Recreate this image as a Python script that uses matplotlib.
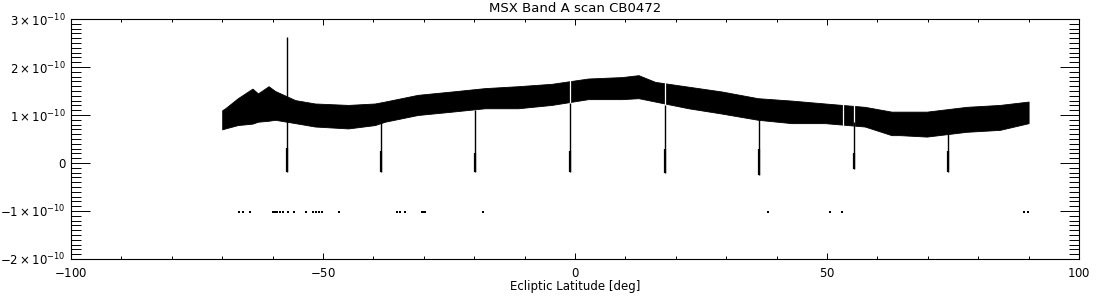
import numpy as np
import matplotlib
matplotlib.use('Agg')
import matplotlib.pyplot as plt
from matplotlib.ticker import MultipleLocator, FuncFormatter

# band envelope (flux in units of 1e-10) vs ecliptic latitude
lat = [-70, -69.4, -66.9, -64.0, -62.9, -60.8, -59.5, -55.5, -51.6, -45.0, -39.7, -37.7,
       -31.2, -24.4, -17.9, -11.3, -4.6, 2.6, 9.3, 12.6, 15.9, 22.5,
       29.1, 36.3, 43.0, 49.6, 57.5, 62.8, 64.5, 69.8, 77.7, 84.3, 90]
upper = [1.10, 1.14, 1.35, 1.55, 1.45, 1.60, 1.50, 1.31, 1.24, 1.21, 1.24, 1.28,
         1.42, 1.49, 1.56, 1.60, 1.65, 1.76, 1.79, 1.83, 1.69, 1.59,
         1.49, 1.35, 1.30, 1.24, 1.17, 1.07, 1.07, 1.07, 1.17, 1.21, 1.28]
lower = [0.70, 0.72, 0.79, 0.82, 0.86, 0.88, 0.90, 0.83, 0.76, 0.72, 0.79, 0.86,
         1.00, 1.07, 1.14, 1.14, 1.21, 1.33, 1.33, 1.35, 1.28, 1.14,
         1.03, 0.90, 0.83, 0.83, 0.76, 0.58, 0.58, 0.55, 0.65, 0.69, 0.83]

# source crossings (downward spikes)
spike_lat = [-57.1, -38.55, -19.8, -1.0, 17.9, 36.6, 55.4, 74.1]
spike_low = [-0.18, -0.18, -0.18, -0.18, -0.20, -0.25, -0.13, -0.18]
spike_top = [2.63, 1.00, 1.10, 1.25, 1.20, 0.95, 0.85, 0.75]
spike_core = [0.31, 0.25, 0.20, 0.25, 0.30, 0.30, 0.20, 0.25]

# white drop-out columns inside the band
gap_lat = [-1.0, 17.9, 53.2, 55.4]

# stray samples near -1e-10
dot_lat = [-66.6, -65.9, -64.4, -60.0, -59.6, -59.2, -58.5, -58.0, -56.9,
           -55.8, -53.4, -52.0, -51.4, -50.7, -50.1, -46.8, -35.4, -34.7,
           -33.7, -30.4, -30.1, -29.8, -18.3, 38.2, 50.5, 53.0, 89.0, 89.8]
dot_val = [-1.03] * len(dot_lat)

scale = 1e-10

plt.rcParams['font.family'] = 'DejaVu Sans'
plt.rcParams['mathtext.fontset'] = 'dejavusans'

fig = plt.figure(figsize=(11, 3), dpi=100)
ax = fig.add_axes([71 / 1100, 1 - 259 / 300, 1008 / 1100, 240 / 300])

lat_a = np.array(lat)
up_a = np.array(upper) * scale
lo_a = np.array(lower) * scale
ax.fill_between(lat_a, lo_a, up_a, color='black', linewidth=0.6, edgecolor='black')

# gaps
g_lo = np.interp(gap_lat, lat_a, lo_a)
g_hi = np.interp(gap_lat, lat_a, up_a)
ax.vlines(gap_lat, g_lo - 0.03 * scale, g_hi + 0.03 * scale, color='white', linewidth=0.9)

ax.vlines(spike_lat, np.array(spike_low) * scale, np.array(spike_top) * scale,
          color='black', linewidth=1.0)
ax.vlines(spike_lat, np.array(spike_low) * scale, np.array(spike_core) * scale,
          color='black', linewidth=1.6)

ax.scatter(dot_lat, np.array(dot_val) * scale, s=0.6, color='black', marker='s', linewidths=0)

ax.set_xlim(-100, 100)
ax.set_ylim(-2e-10, 3e-10)

ax.xaxis.set_major_locator(MultipleLocator(50))
ax.xaxis.set_minor_locator(MultipleLocator(10))
ax.yaxis.set_major_locator(MultipleLocator(1e-10))
ax.yaxis.set_minor_locator(MultipleLocator(1e-11))


def yfmt(v, pos):
    n = int(round(v / 1e-10))
    if n == 0:
        return '0'
    sign = '-' if n < 0 else ''
    return r'$%s%d\times10^{-10}$' % (sign, abs(n))


ax.yaxis.set_major_formatter(FuncFormatter(yfmt))
ax.xaxis.set_major_formatter(FuncFormatter(lambda v, p: r'$%d$' % v))

ax.tick_params(axis='x', which='major', direction='in', length=4, width=0.7,
               top=True, labelsize=8.5, pad=6)
ax.tick_params(axis='x', which='minor', direction='in', length=2.5, width=0.7, top=True)
ax.tick_params(axis='y', which='major', direction='in', length=13.5, width=0.7,
               right=True, labelsize=8.5, pad=4)
ax.tick_params(axis='y', which='minor', direction='in', length=7, width=0.7, right=True)
for s in ax.spines.values():
    s.set_linewidth(0.8)

fig.text(0.5 + 0.5 * 71 / 1100 - 0.5 * 21 / 1100, 1 - 9 / 300, 'MSX Band A scan CB0472',
         fontsize=9.5, ha='center', va='center')
ax.set_xlabel('Ecliptic Latitude [deg]', fontsize=8.5, labelpad=0)

fig.savefig('out.png', dpi=100)
